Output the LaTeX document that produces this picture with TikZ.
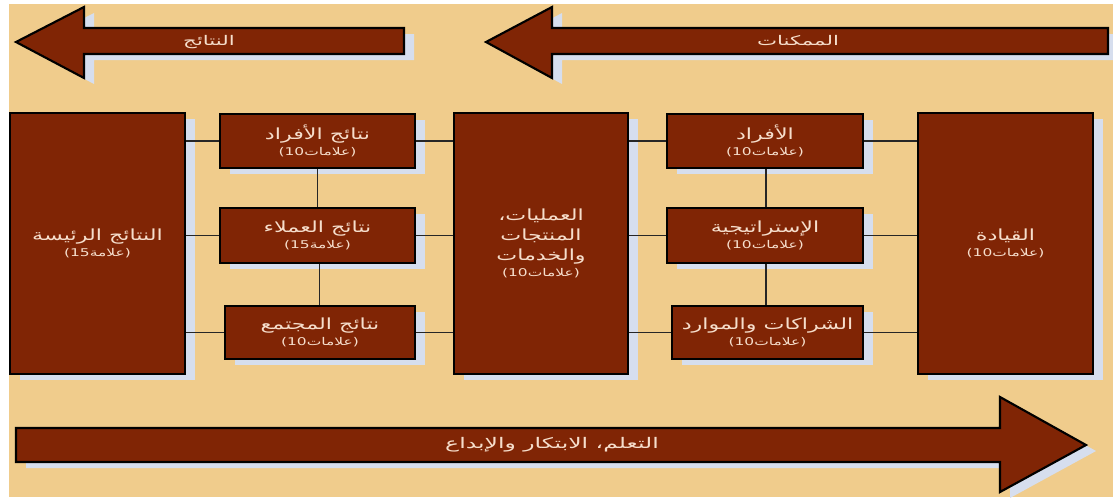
\documentclass[tikz,border=0pt]{standalone}
\usepackage{fontspec}
\TeXXeTstate=1
\newfontfamily\arabicfont[Script=Arabic, FakeStretch=1.45]{DejaVu Sans}
\newfontfamily\latfont[FakeStretch=1.45]{DejaVu Sans}
\newfontfamily\arabicwide[Script=Arabic, FakeStretch=1.6]{DejaVu Sans}
\usetikzlibrary{shadows}
\definecolor{beige}{RGB}{240,204,140}
\definecolor{boxred}{RGB}{128,37,5}
\definecolor{txtc}{RGB}{246,222,204}
\definecolor{shadc}{RGB}{214,222,238}
\newcommand\boxttl[1]{{\arabicfont\beginR #1\endR}}
\newcommand\boxsubt[1]{{\fontsize{8}{10}\selectfont\mbox{\latfont(#1}\mbox{\arabicfont علامات}\mbox{\latfont)}}}
\newcommand\boxsubo[1]{{\fontsize{8}{10}\selectfont\mbox{\latfont(#1}\mbox{\arabicfont علامة}\mbox{\latfont)}}}
\begin{document}
\begin{tikzpicture}[x=0.75pt,y=-0.75pt,
  shad/.style={drop shadow={shadow xshift=7.5pt, shadow yshift=-4.5pt, fill=shadc, opacity=1}},
  box/.style={shad, draw=black, line width=1.6pt, fill=boxred, text=txtc, align=center,
    inner sep=0pt, font=\arabicfont\fontsize{11.5}{15}\selectfont},
  bigbox/.style={box, minimum width=131.25pt, minimum height=195.75pt},
  arr/.style={shad, draw=black, line width=1.6pt, fill=boxred, line join=miter},
  arrtxt/.style={text=txtc, font=\arabicwide\fontsize{10}{12}\selectfont, inner sep=0pt},
  link/.style={draw=black!85, line width=0.9pt}]
\useasboundingbox (0,0) rectangle (1113,497);
\fill[white] (0,0) rectangle (1113,497);
\fill[beige] (9,4) rectangle (1113,497);

% top arrows
\draw[arr] (16,42) -- (84,7) -- (84,28) -- (404,28) -- (404,54) -- (84,54) -- (84,78) -- cycle;
\node[arrtxt] (res) at (209,42) {\beginR النتائج\endR};
\draw[arr] (486,42) -- (552,7) -- (552,28) -- (1108,28) -- (1108,54) -- (552,54) -- (552,78) -- cycle;
\node[arrtxt] (enab) at (798,41) {\beginR الممكنات\endR};

% bottom arrow
\draw[arr] (16,428) -- (1000,428) -- (1000,397) -- (1086,445) -- (1000,492) -- (1000,462) -- (16,462) -- cycle;
\node[arrtxt, font=\arabicwide\fontsize{11}{13}\selectfont] (learn) at (552,445) {\beginR التعلم، الابتكار والإبداع\endR};

% boxes
\node[bigbox] (kr) at (97.5,243.5) {\boxttl{النتائج الرئيسة}\\[-3pt]\boxsubo{15}};
\node[box, minimum width=146.25pt, minimum height=40.5pt] (pr) at (317.5,141) {\boxttl{نتائج الأفراد}\\[-3pt]\boxsubt{10}};
\node[box, minimum width=146.25pt, minimum height=41.25pt] (cr) at (317.5,235.5) {\boxttl{نتائج العملاء}\\[-3pt]\boxsubo{15}};
\node[box, minimum width=142.5pt, minimum height=39.75pt] (sr) at (320,332.5) {\boxttl{نتائج المجتمع}\\[-3pt]\boxsubt{10}};
\node[box, minimum width=130.5pt, minimum height=195.75pt] (proc) at (541,243.5)
  {\boxttl{العمليات،}\\\boxttl{المنتجات}\\\boxttl{والخدمات}\\[-3pt]\boxsubt{10}};
\node[box, minimum width=147pt, minimum height=40.5pt] (ppl) at (765,141) {\boxttl{الأفراد}\\[-3pt]\boxsubt{10}};
\node[box, minimum width=147pt, minimum height=41.25pt] (str) at (765,235.5) {\boxttl{الإستراتيجية}\\[-3pt]\boxsubt{10}};
\node[box, minimum width=143.25pt, minimum height=39.75pt] (part) at (767.5,332.5) {\boxttl{الشراكات والموارد}\\[-3pt]\boxsubt{10}};
\node[bigbox] (lead) at (1005.5,243.5) {\boxttl{القيادة}\\[-3pt]\boxsubt{10}};

% connectors
\foreach \b in {pr,cr,sr}{
  \draw[link] (kr.east |- \b.west) -- (\b.west);
  \draw[link] (\b.east) -- (proc.west |- \b.east);
}
\foreach \b in {ppl,str,part}{
  \draw[link] (proc.east |- \b.west) -- (\b.west);
  \draw[link] (\b.east) -- (lead.west |- \b.east);
}
\draw[link] (pr.south) -- (cr.north);
\draw[link] ([xshift=1.5pt]cr.south) -- ([xshift=1.5pt]cr.south |- sr.north);
\draw[link] ([xshift=0.75pt]ppl.south) -- ([xshift=0.75pt]str.north);
\draw[link] ([xshift=0.75pt]str.south) -- ([xshift=0.75pt]str.south |- part.north);
\end{tikzpicture}
\end{document}
